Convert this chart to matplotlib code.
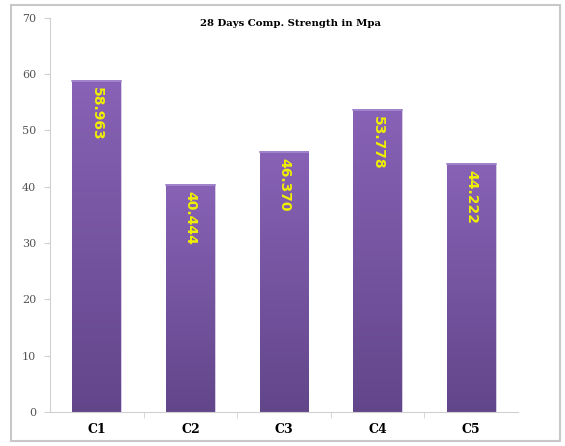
import matplotlib.pyplot as plt
import numpy as np
from matplotlib.patches import Rectangle
from matplotlib.colors import LinearSegmentedColormap

# data
mixes = ['C1', 'C2', 'C3', 'C4', 'C5']
strength = [58.963, 40.444, 46.370, 53.778, 44.222]
labels = ['58.963', '40.444', '46.370', '53.778', '44.222']

fig = plt.figure(figsize=(5.65, 4.46), dpi=100)
# outer chart border
fig.patches.append(Rectangle((11/565, 5/446), 549/565, 436/446, transform=fig.transFigure,
                             fill=False, edgecolor='#c8c8c8', linewidth=1.5))
ax = fig.add_axes([0.0885, 0.0762, 0.8285, 0.8838])

x = np.arange(len(mixes))
bars = ax.bar(x, strength, width=0.52, color='#7656a3', edgecolor='#dcd4ea', linewidth=0.6, zorder=2)

# vertical gradient on each bar
cmap = LinearSegmentedColormap.from_list('purp', ['#62468a', '#8862b6'])
grad = np.linspace(0, 1, 256).reshape(-1, 1)
for b in bars:
    x0, w, h = b.get_x(), b.get_width(), b.get_height()
    im = ax.imshow(grad, cmap=cmap, aspect='auto', origin='lower',
                   extent=[x0, x0 + w, 0, h], zorder=2.5)
    im.set_clip_path(b)
    ax.plot([x0, x0 + w], [h - 0.2, h - 0.2], color='#a48ad0', linewidth=1.2, zorder=3)

for xi, v, lab in zip(x, strength, labels):
    ax.text(xi, v - 1.2, lab, rotation=-90, ha='center', va='top', color='#f0f000',
            fontsize=10, fontweight='bold', family='DejaVu Sans', zorder=4)

ax.set_xlim(-0.5, 4.5)
ax.set_ylim(0, 70)
ax.set_yticks(range(0, 71, 10))
ax.set_xticks(x)
ax.set_xticklabels(mixes, fontsize=9, fontweight='bold', family='DejaVu Serif')
ax.set_xticks(np.arange(0.5, 4.5, 1), minor=True)
ax.tick_params(axis='x', which='major', length=0, pad=8)
ax.tick_params(axis='x', which='minor', length=4, color='#d0d0d0')
ax.tick_params(axis='y', length=4, color='#d0d0d0', labelcolor='#555555', labelsize=8, pad=6)
for t in ax.get_yticklabels():
    t.set_family('DejaVu Serif')

for s in ['top', 'right']:
    ax.spines[s].set_visible(False)
for s in ['left', 'bottom']:
    ax.spines[s].set_color('#d0d0d0')

ax.set_title('28 Days Comp. Strength in Mpa', fontsize=7.3, fontweight='bold',
             family='DejaVu Serif', x=0.513, y=0.975, va='top')

plt.savefig('out.png', dpi=100)
